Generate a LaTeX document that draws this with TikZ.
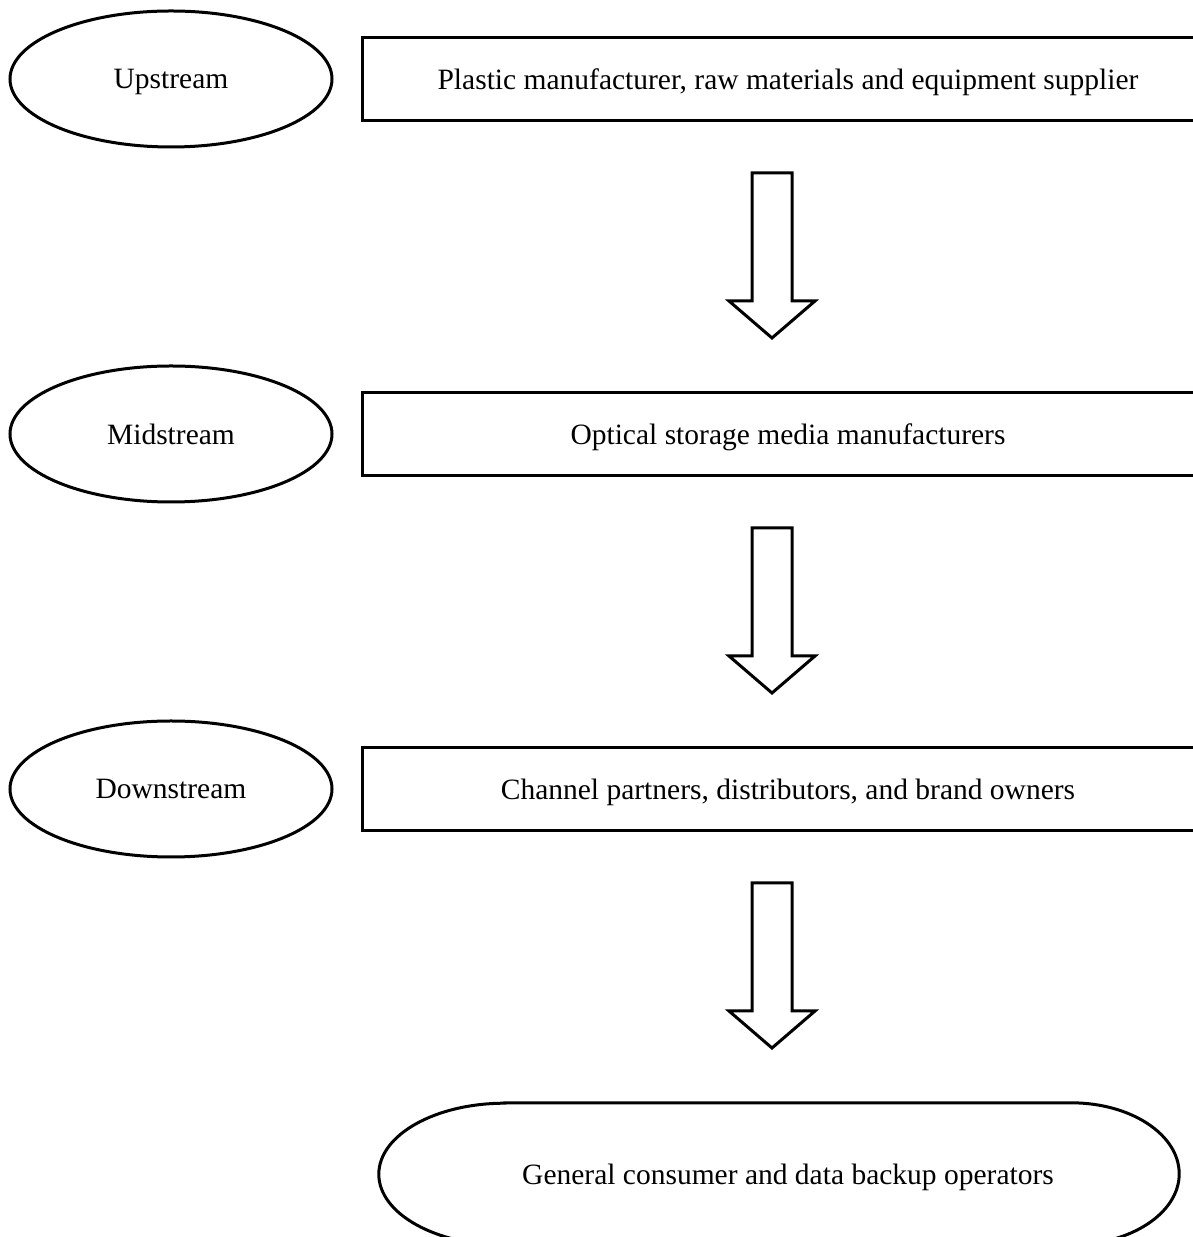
\documentclass[tikz,border=0pt]{standalone}
\usepackage{fontspec}
\setmainfont{Liberation Serif}
\usepackage{tikz}
\usetikzlibrary{shapes.geometric}

\begin{document}
\begin{tikzpicture}[x=1pt,y=1pt,
  stage/.style={draw,ellipse,line width=3pt,minimum width=322pt,minimum height=136pt,
    text depth=0pt,font=\fontsize{29.5}{34}\selectfont},
  firm/.style={draw,rectangle,line width=3pt,minimum width=852pt,minimum height=83pt,
    text depth=0pt,font=\fontsize{29.5}{34}\selectfont},
  market/.style={minimum width=566pt,minimum height=142pt,inner sep=0pt,
    text depth=0pt,font=\fontsize{29.5}{34}\selectfont},
  flow/.style={draw,line width=3pt,line join=miter,fill=white},
  edge/.style={draw,line width=3pt}
]
\useasboundingbox (0,0) rectangle (1193,1237);
% Stages on the left, actors on the right.
\node[stage] (up) at (171,1158) {Upstream};
\node[firm] (supp) at (788,1158) {Plastic manufacturer, raw materials and equipment supplier};
\node[stage] (mid) at (171,803) {Midstream};
\node[firm] (make) at (788,803) {Optical storage media manufacturers};
\node[stage] (down) at (171,448) {Downstream};
\node[firm] (chan) at (788,448) {Channel partners, distributors, and brand owners};

% Block arrows between the actors.
\coordinate (a1) at (772,1064);
\coordinate (a2) at (772,709);
\coordinate (a3) at (772,354);
\path[flow] (a1) ++(-20,0) -- ++(0,-128) -- ++(-23,0) -- ++(43,-37) -- ++(43,37)
  -- ++(-23,0) -- ++(0,128) -- cycle;
\path[flow] (a2) ++(-20,0) -- ++(0,-128) -- ++(-23,0) -- ++(43,-37) -- ++(43,37)
  -- ++(-23,0) -- ++(0,128) -- cycle;
\path[flow] (a3) ++(-20,0) -- ++(0,-128) -- ++(-23,0) -- ++(43,-37) -- ++(43,37)
  -- ++(-23,0) -- ++(0,128) -- cycle;

% End users.
\node[market] (cons) at (788,63) {General consumer and data backup operators};
\path[edge] (cons.north west) -- (cons.north east)
  arc[start angle=90,end angle=-90,x radius=108,y radius=71]
  -- (cons.south west)
  arc[start angle=270,end angle=90,x radius=126,y radius=71] -- cycle;
\end{tikzpicture}
\end{document}
